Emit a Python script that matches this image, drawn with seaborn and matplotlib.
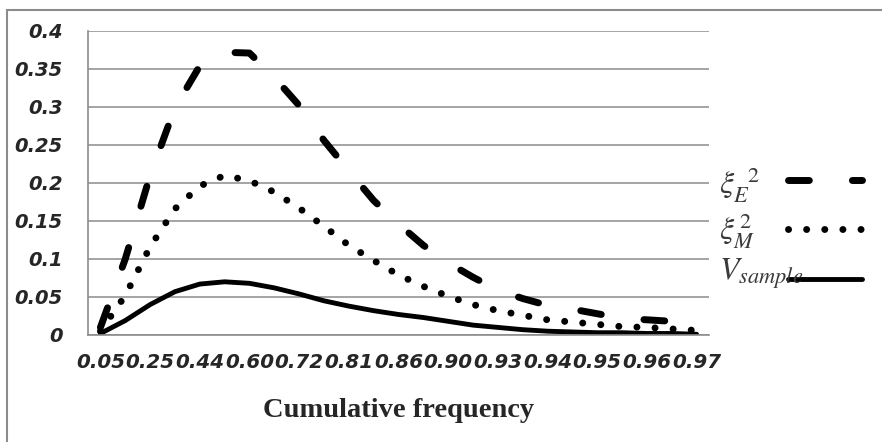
import matplotlib
matplotlib.use("Agg")
import matplotlib.pyplot as plt
import seaborn as sns
import numpy as np
import pandas as pd
from matplotlib.patches import Rectangle

# ---- data ----
cum_freq = ["0.05", "0.15", "0.25", "0.35", "0.44", "0.52", "0.60", "0.66", "0.72",
            "0.77", "0.81", "0.84", "0.86", "0.88", "0.90", "0.92", "0.93", "0.935",
            "0.94", "0.945", "0.95", "0.955", "0.96", "0.965", "0.97"]
xi_E = [0.010, 0.100, 0.210, 0.299, 0.354, 0.372, 0.371, 0.339, 0.302, 0.256,
        0.216, 0.177, 0.146, 0.118, 0.095, 0.076, 0.059, 0.048, 0.039, 0.034,
        0.028, 0.022, 0.020, 0.018, 0.016]
xi_M = [0.005, 0.052, 0.116, 0.166, 0.196, 0.210, 0.203, 0.188, 0.167, 0.143,
        0.118, 0.098, 0.079, 0.064, 0.051, 0.040, 0.032, 0.026, 0.020, 0.017,
        0.014, 0.011, 0.010, 0.008, 0.006]
v_sample = [0.002, 0.019, 0.040, 0.057, 0.067, 0.070, 0.068, 0.062, 0.054, 0.045,
            0.038, 0.032, 0.027, 0.023, 0.018, 0.013, 0.010, 0.007, 0.005, 0.004,
            0.003, 0.003, 0.002, 0.002, 0.001]
y_ticks = [0, 0.05, 0.1, 0.15, 0.2, 0.25, 0.3, 0.35, 0.4]
y_ticklabels = ["0", "0.05", "0.1", "0.15", "0.2", "0.25", "0.3", "0.35", "0.4"]
series_labels = [r"$\xi_{E}^{\ \ 2}$", r"$\xi_{M}^{\,2}$", r"$V_{sample}$"]
x_label = "Cumulative frequency"

sns.set_style("white")
plt.rcParams["font.family"] = ["DejaVu Sans"]
plt.rcParams["mathtext.fontset"] = "stix"

W, H = 882, 442
fig = plt.figure(figsize=(W / 100, H / 100), dpi=100)
ax = fig.add_axes([88 / W, 1 - 335 / H, (709 - 88) / W, (335 - 31) / H])

pos = np.arange(len(cum_freq))
grid_c = "#8c8c8c"

sns.lineplot(x=pos, y=xi_E, ax=ax, color="black", lw=5.0,
             linestyle=(0, (3.0, 6.2)), dash_capstyle="round",
             label=series_labels[0])
sns.lineplot(x=pos, y=xi_M, ax=ax, color="black", lw=5.0,
             linestyle=(0, (0.01, 2.6)), dash_capstyle="round",
             label=series_labels[1])
sns.lineplot(x=pos, y=v_sample, ax=ax, color="black", lw=3.5,
             solid_capstyle="round", solid_joinstyle="round",
             label=series_labels[2])

ax.set_xlim(-0.5, len(cum_freq) - 0.5)
ax.set_ylim(0, 0.4)

# y axis
ax.set_yticks(y_ticks)
ax.set_yticklabels(y_ticklabels, fontsize=14, fontweight="bold", fontstyle="italic")
ax.tick_params(axis="y", direction="out", length=6, width=1.2, color=grid_c, pad=12)
ax.yaxis.grid(True, color=grid_c, lw=1.1)
ax.xaxis.grid(False)

# x axis: labels every other category, ticks between categories
ax.set_xticks(pos[::2])
ax.set_xticklabels(cum_freq[::2], fontsize=14.3, fontweight="bold", fontstyle="italic")
ax.set_xticks(np.arange(-0.5, len(cum_freq)), minor=True)
ax.tick_params(axis="x", which="major", length=0, pad=13)
ax.tick_params(axis="x", which="minor", direction="out", length=7, width=1.2, color=grid_c)
ax.set_xlabel(x_label, fontsize=20.5, fontweight="bold", family="Liberation Serif", labelpad=19)
ax.set_ylabel("")

for s in ["top", "right"]:
    ax.spines[s].set_visible(False)
for s in ["left", "bottom"]:
    ax.spines[s].set_color(grid_c)
    ax.spines[s].set_linewidth(1.2)
ax.set_axisbelow(True)

# legend: line samples on the right, labels as text on their left
handles, labels = ax.get_legend_handles_labels()
leg_fs = 22
ax.legend(handles, ["", "", ""], frameon=False,
          loc="upper left", bbox_to_anchor=(788 / W, 1 - 168 / H),
          bbox_transform=fig.transFigure, fontsize=leg_fs, handlelength=2.42,
          handletextpad=0, labelspacing=0.66, borderpad=0, borderaxespad=0)
label_y = [184, 231, 274]
for lab, yy in zip(labels, label_y):
    fig.text(719 / W, 1 - yy / H, lab, fontsize=23, color="#3a3a3a",
             ha="left", va="center")

# outer chart border (left and top visible)
fig.patches.append(Rectangle((7 / W, -0.1), 1.2, 1 - 10 / H + 0.1,
                             transform=fig.transFigure, fill=False,
                             edgecolor="#8c8c8c", lw=1.5))

fig.savefig("out.png", dpi=100)
